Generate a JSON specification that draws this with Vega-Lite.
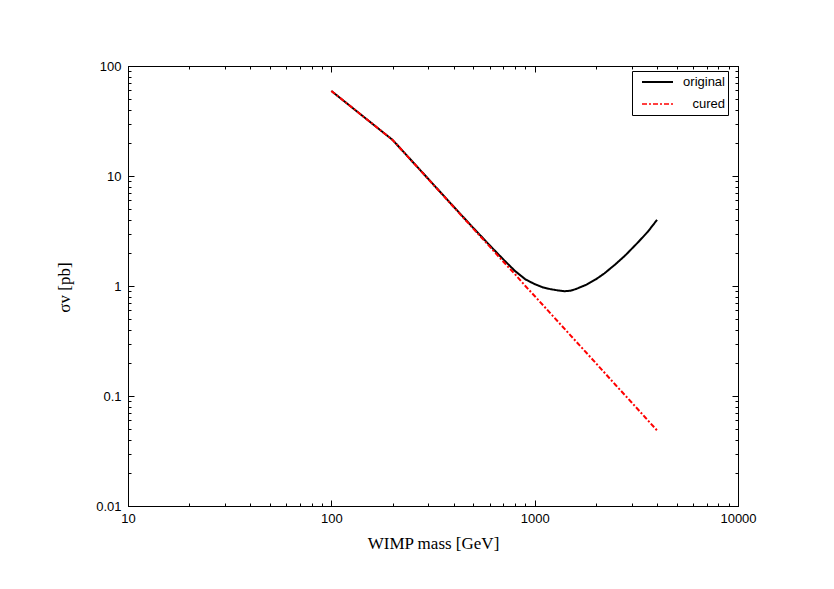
{
  "$schema": "https://vega.github.io/schema/vega-lite/v6.json",
  "width": 610,
  "height": 440,
  "autosize": {"type": "none"},
  "padding": {"left": 128, "top": 66, "right": 96, "bottom": 83},
  "background": "white",
  "config": {
    "view": {"stroke": "black", "strokeWidth": 1},
    "axis": {
      "grid": false,
      "domainColor": "black",
      "domainWidth": 1,
      "tickColor": "black",
      "tickWidth": 1,
      "labelFont": "Liberation Sans",
      "labelFontSize": 13,
      "labelColor": "black",
      "titleFont": "Liberation Serif",
      "titleFontSize": 17,
      "titleFontWeight": "normal",
      "titleColor": "black"
    }
  },
  "data": {
    "values": [
      {"series": "original", "mass": 100, "sigma": 59.3},
      {"series": "original", "mass": 200, "sigma": 21.3},
      {"series": "original", "mass": 300, "sigma": 9.4},
      {"series": "original", "mass": 400, "sigma": 5.25},
      {"series": "original", "mass": 500, "sigma": 3.36},
      {"series": "original", "mass": 600, "sigma": 2.35},
      {"series": "original", "mass": 700, "sigma": 1.75},
      {"series": "original", "mass": 800, "sigma": 1.37},
      {"series": "original", "mass": 900, "sigma": 1.15},
      {"series": "original", "mass": 1000, "sigma": 1.04},
      {"series": "original", "mass": 1100, "sigma": 0.97},
      {"series": "original", "mass": 1200, "sigma": 0.935},
      {"series": "original", "mass": 1300, "sigma": 0.912},
      {"series": "original", "mass": 1400, "sigma": 0.897},
      {"series": "original", "mass": 1500, "sigma": 0.905},
      {"series": "original", "mass": 1600, "sigma": 0.94},
      {"series": "original", "mass": 1800, "sigma": 1.03},
      {"series": "original", "mass": 2000, "sigma": 1.15},
      {"series": "original", "mass": 2200, "sigma": 1.3},
      {"series": "original", "mass": 2500, "sigma": 1.58},
      {"series": "original", "mass": 2800, "sigma": 1.91},
      {"series": "original", "mass": 3200, "sigma": 2.46},
      {"series": "original", "mass": 3600, "sigma": 3.11},
      {"series": "original", "mass": 4000, "sigma": 4.0},
      {"series": "cured", "mass": 100, "sigma": 59.3},
      {"series": "cured", "mass": 200, "sigma": 21.3},
      {"series": "cured", "mass": 300, "sigma": 9.35},
      {"series": "cured", "mass": 400, "sigma": 5.21},
      {"series": "cured", "mass": 500, "sigma": 3.31},
      {"series": "cured", "mass": 600, "sigma": 2.29},
      {"series": "cured", "mass": 700, "sigma": 1.67},
      {"series": "cured", "mass": 800, "sigma": 1.28},
      {"series": "cured", "mass": 900, "sigma": 1.0},
      {"series": "cured", "mass": 1000, "sigma": 0.811},
      {"series": "cured", "mass": 1500, "sigma": 0.356},
      {"series": "cured", "mass": 2000, "sigma": 0.199},
      {"series": "cured", "mass": 2500, "sigma": 0.126},
      {"series": "cured", "mass": 3000, "sigma": 0.0873},
      {"series": "cured", "mass": 3500, "sigma": 0.0638},
      {"series": "cured", "mass": 4000, "sigma": 0.0486}
    ]
  },
  "layer": [
    {
      "mark": {"type": "line", "strokeWidth": 2, "clip": true},
      "encoding": {
        "x": {
          "field": "mass", "type": "quantitative",
          "scale": {"type": "log", "domain": [10, 10000], "nice": false},
          "axis": {
            "orient": "bottom",
            "title": "WIMP mass [GeV]",
            "titleY": 42,
            "titleBaseline": "alphabetic",
            "values": [10,20,30,40,50,60,70,80,90,100,200,300,400,500,600,700,800,900,1000,2000,3000,4000,5000,6000,7000,8000,9000,10000],
            "format": "~g",
            "labelExpr": "indexof([10,100,1000,10000], datum.value) >= 0 ? datum.label : ''",
            "tickSize": {"condition": {"test": "indexof([10,100,1000,10000], datum.value) >= 0", "value": -6}, "value": -3},
            "labelPadding": 12,
            "labelFlush": false,
            "labelOverlap": false
          }
        },
        "y": {
          "field": "sigma", "type": "quantitative",
          "scale": {"type": "log", "domain": [0.01, 100], "nice": false},
          "axis": {
            "orient": "left",
            "title": "σv [pb]",
            "titleX": -59,
            "titleY": 221,
            "titleAngle": -90,
            "titleBaseline": "alphabetic",
            "titleAlign": "center",
            "values": [0.01,0.02,0.03,0.04,0.05,0.06,0.07,0.08,0.09,0.1,0.2,0.3,0.4,0.5,0.6,0.7,0.8,0.9,1,2,3,4,5,6,7,8,9,10,20,30,40,50,60,70,80,90,100],
            "format": "~g",
            "labelExpr": "indexof([0.01,0.1,1,10,100], datum.value) >= 0 ? datum.label : ''",
            "tickSize": {"condition": {"test": "indexof([0.01,0.1,1,10,100], datum.value) >= 0", "value": -6}, "value": -3},
            "labelPadding": 13,
            "labelFlush": false,
            "labelOverlap": false
          }
        },
        "color": {
          "field": "series", "type": "nominal",
          "scale": {"domain": ["original", "cured"], "range": ["black", "red"]},
          "legend": {
            "title": null,
            "orient": "none",
            "legendX": 504,
            "legendY": 5,
            "strokeColor": "black",
            "fillColor": "white",
            "padding": 3,
            "clipHeight": 16,
            "symbolType": "stroke",
            "symbolSize": 961,
            "symbolStrokeWidth": 2,
            "symbolOffset": 6,
            "labelFont": "Liberation Sans",
            "labelFontSize": 13,
            "labelColor": "black",
            "labelAlign": "right",
            "labelOffset": 51,
            "rowPadding": 6
          }
        },
        "strokeDash": {
          "field": "series", "type": "nominal",
          "scale": {"domain": ["original", "cured"], "range": [[1, 0], [5, 2, 2, 2]]},
          "legend": null
        },
        "strokeWidth": {
          "field": "series", "type": "nominal",
          "scale": {"domain": ["original", "cured"], "range": [2, 1.6]},
          "legend": null
        }
      }
    },
    {
      "mark": {"type": "line", "opacity": 0},
      "encoding": {
        "x": {
          "field": "mass", "type": "quantitative",
          "scale": {"type": "log", "domain": [10, 10000], "nice": false},
          "axis": {
            "orient": "top",
            "title": null,
            "labels": false,
            "values": [10,20,30,40,50,60,70,80,90,100,200,300,400,500,600,700,800,900,1000,2000,3000,4000,5000,6000,7000,8000,9000,10000],
            "tickSize": {"condition": {"test": "indexof([10,100,1000,10000], datum.value) >= 0", "value": -6}, "value": -3}
          }
        },
        "y": {
          "field": "sigma", "type": "quantitative",
          "scale": {"type": "log", "domain": [0.01, 100], "nice": false},
          "axis": {
            "orient": "right",
            "title": null,
            "labels": false,
            "values": [0.01,0.02,0.03,0.04,0.05,0.06,0.07,0.08,0.09,0.1,0.2,0.3,0.4,0.5,0.6,0.7,0.8,0.9,1,2,3,4,5,6,7,8,9,10,20,30,40,50,60,70,80,90,100],
            "tickSize": {"condition": {"test": "indexof([0.01,0.1,1,10,100], datum.value) >= 0", "value": -6}, "value": -3}
          }
        }
      }
    }
  ],
  "resolve": {"axis": {"x": "independent", "y": "independent"}}
}
